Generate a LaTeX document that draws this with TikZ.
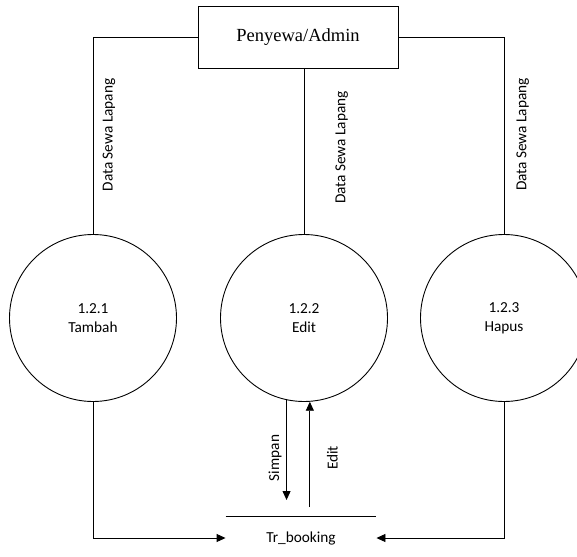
\documentclass[tikz,border=0pt]{standalone}
\usepackage{fontspec}
\setmainfont{Liberation Serif}
\newfontfamily\labelfont{Carlito}
\usetikzlibrary{arrows.meta,calc}

\begin{document}
\begin{tikzpicture}[x=1pt,y=-1pt,
  line width=0.9pt,
  entity/.style={draw, minimum width=200pt, minimum height=61.5pt, inner sep=0pt,
    font=\fontsize{18.5}{22}\selectfont},
  process/.style={draw, circle, minimum size=167pt, inner sep=0pt, align=center,
    font=\labelfont\fontsize{15.3}{19}\selectfont},
  datastore/.style={inner sep=0pt, minimum width=150pt, minimum height=42pt,
    font=\labelfont\fontsize{15.3}{18}\selectfont},
  flowlabel/.style={rotate=90, inner sep=0pt,
    font=\labelfont\fontsize{15.3}{18}\selectfont},
  flow/.style={-{Triangle[length=9pt,width=8pt]}},
]
% canvas
\fill[white] (0,0) rectangle (577,556);
\useasboundingbox (0,0) rectangle (577,556);
\clip (0,0) rectangle (577,556);

% external entity
\node[entity] (admin) at (298,37.5) {Penyewa/Admin};

% processes
\node[process] (p1) at (93,318) {1.2.1\\Tambah};
\node[process] (p2) at (304,318) {1.2.2\\Edit};
\node[process] (p3) at (504,318) {1.2.3\\Hapus};

% data store
\node[datastore] (store) at (301,538) {Tr\_booking};
\draw (store.north west) -- (store.north east);

% entity to processes
\draw (admin.west) -| (p1.north);
\draw (admin.south -| p2.north) -- (p2.north);
\draw (admin.east) -| (p3.north);

% processes to data store
\draw[flow] (p1.south) |- (store.west);
\draw[flow] (p3.south) |- (store.east);

\coordinate (simpanEnd) at (287,500);
\coordinate (editStart) at (310,507);
\draw[flow] (p2.-102) -- (p2.-102 |- simpanEnd);
\draw[flow] (p2.-86 |- editStart) -- (p2.-86);

% flow labels
\node[flowlabel] (l1) at (109,135) {Data Sewa Lapang};
\node[flowlabel] (l2) at (341.7,147.5) {Data Sewa Lapang};
\node[flowlabel] (l3) at (522.7,134.5) {Data Sewa Lapang};
\node[flowlabel] (l4) at (275,458) {Simpan};
\node[flowlabel] (l5) at (332.3,458) {Edit};
\end{tikzpicture}
\end{document}
